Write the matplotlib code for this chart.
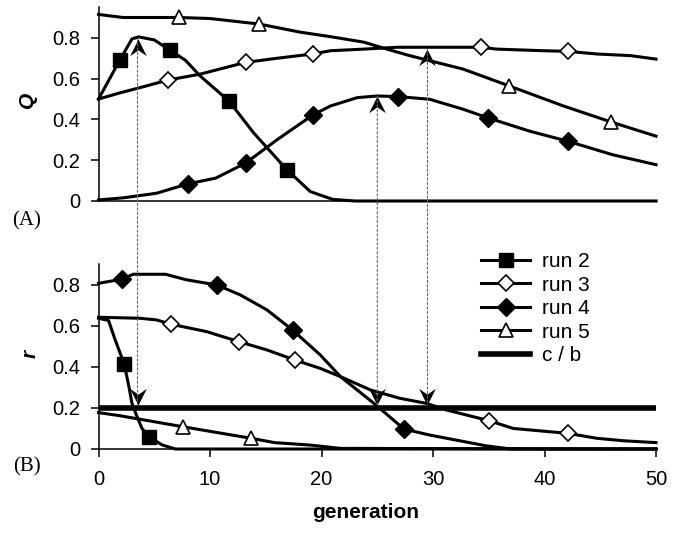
import matplotlib
matplotlib.use('Agg')
import matplotlib.pyplot as plt
from matplotlib.patches import ConnectionPatch
from matplotlib.path import Path

plt.rcParams['font.family'] = ['Liberation Sans', 'DejaVu Sans']

# ---- dados ----
# painel A: Q por geração
run2_gen_q = [0, 1.9, 3.0, 3.6, 5.0, 6.4, 7.8, 9.1, 11.7, 13.9, 16.9, 19.0, 21.0, 23.0, 50]
run2_q = [0.50, 0.69, 0.795, 0.805, 0.79, 0.74, 0.69, 0.614, 0.49, 0.335, 0.153, 0.046, 0.008, 0.0, 0.0]
run2_q_mk = [1, 5, 8, 10]

run3_gen_q = [0, 1.9, 4.0, 6.2, 9.1, 13.2, 16.0, 19.2, 20.8, 23.8, 26.8, 34.3, 35.7, 39.9, 42.1, 44.7, 47.7, 50]
run3_q = [0.50, 0.53, 0.56, 0.593, 0.622, 0.68, 0.70, 0.721, 0.737, 0.745, 0.754, 0.754, 0.745, 0.737, 0.734, 0.721, 0.713, 0.696]
run3_q_mk = [3, 5, 7, 11, 14]

run4_gen_q = [0, 2.3, 5.2, 8.0, 10.5, 13.2, 16.0, 19.2, 20.8, 23.2, 25.0, 26.9, 29.7, 32.7, 34.9, 38.7, 42.1, 46.1, 50]
run4_q = [0.005, 0.016, 0.038, 0.084, 0.112, 0.186, 0.30, 0.421, 0.466, 0.507, 0.515, 0.512, 0.499, 0.45, 0.408, 0.342, 0.293, 0.227, 0.178]
run4_q_mk = [3, 5, 7, 11, 14, 16]

run5_gen_q = [0, 2.2, 7.2, 10.0, 14.4, 18.1, 20.8, 23.8, 25.6, 27.9, 29.7, 32.7, 36.8, 41.7, 46.0, 50]
run5_q = [0.915, 0.90, 0.90, 0.895, 0.868, 0.828, 0.806, 0.779, 0.749, 0.713, 0.688, 0.647, 0.565, 0.466, 0.387, 0.318]
run5_q_mk = [2, 4, 12, 14]

# painel B: r por geração
run2_gen_r = [0, 0.9, 1.5, 2.3, 2.7, 3.0, 3.4, 3.9, 4.5, 5.7, 6.9, 50]
run2_r = [0.636, 0.625, 0.53, 0.414, 0.311, 0.222, 0.165, 0.10, 0.06, 0.02, 0.0, 0.0]
run2_r_mk = [3, 8]

run3_gen_r = [0, 3.7, 5.2, 6.5, 9.7, 12.6, 15.1, 17.6, 19.9, 21.7, 24.4, 27.0, 29.4, 31.2, 35.0, 37.2, 42.1, 44.7, 47.1, 50]
run3_r = [0.641, 0.636, 0.628, 0.607, 0.571, 0.522, 0.482, 0.433, 0.392, 0.352, 0.287, 0.247, 0.222, 0.19, 0.138, 0.10, 0.076, 0.052, 0.04, 0.031]
run3_r_mk = [3, 5, 7, 14, 16]

run4_gen_r = [0, 2.1, 3.1, 6.0, 7.9, 10.6, 12.7, 15.1, 17.4, 19.9, 21.7, 24.7, 27.4, 29.7, 34.8, 37.0, 50]
run4_r = [0.806, 0.826, 0.85, 0.85, 0.823, 0.798, 0.75, 0.677, 0.579, 0.457, 0.352, 0.222, 0.097, 0.068, 0.015, 0.0, 0.0]
run4_r_mk = [1, 5, 8, 12]

run5_gen_r = [0, 1.9, 7.6, 13.7, 15.8, 19.0, 21.7, 50]
run5_r = [0.177, 0.162, 0.108, 0.052, 0.031, 0.019, 0.003, 0.0]
run5_r_mk = [2, 3]

custo_beneficio = 0.2  # c / b

# setas pontilhadas: geração, ponta em Q (painel A), ponta em r (painel B)
seta_gen = [3.5, 25.0, 29.5]
seta_q = [0.795, 0.515, 0.745]
seta_r = [0.214, 0.214, 0.214]

# ---- figura ----
fig = plt.figure(figsize=(6.78, 5.33), dpi=100)
ax_a = fig.add_axes([0.1453, 0.6229, 0.8223, 0.3634])
ax_b = fig.add_axes([0.1453, 0.1576, 0.8223, 0.3471])

estilos = {
    'run 2': dict(marker='s', ms=10, mfc='black', mec='black'),
    'run 3': dict(marker='D', ms=8.5, mfc='white', mec='black', mew=1.2),
    'run 4': dict(marker='D', ms=9.5, mfc='black', mec='black'),
    'run 5': dict(marker='^', ms=10, mfc='white', mec='black', mew=1.2),
}

series_a = [
    ('run 2', run2_gen_q, run2_q, run2_q_mk),
    ('run 3', run3_gen_q, run3_q, run3_q_mk),
    ('run 4', run4_gen_q, run4_q, run4_q_mk),
    ('run 5', run5_gen_q, run5_q, run5_q_mk),
]
series_b = [
    ('run 2', run2_gen_r, run2_r, run2_r_mk),
    ('run 3', run3_gen_r, run3_r, run3_r_mk),
    ('run 4', run4_gen_r, run4_r, run4_r_mk),
    ('run 5', run5_gen_r, run5_r, run5_r_mk),
]

for nome, g, v, mk in series_a:
    ax_a.plot(g, v, color='black', lw=2.2, markevery=mk, clip_on=False, zorder=3, **estilos[nome])

for nome, g, v, mk in series_b:
    ax_b.plot(g, v, color='black', lw=2.2, markevery=mk, clip_on=False, zorder=3, label=nome, **estilos[nome])

ax_b.axhline(custo_beneficio, color='black', lw=4, zorder=2, label='c / b')

# eixos
for ax, topo in [(ax_a, 0.95), (ax_b, 0.9)]:
    ax.set_xlim(0, 50)
    ax.set_ylim(0, topo)
    ax.set_yticks([0, 0.2, 0.4, 0.6, 0.8])
    ax.set_yticklabels(['0', '0.2', '0.4', '0.6', '0.8'])
    ax.spines['top'].set_visible(False)
    ax.spines['right'].set_visible(False)
    ax.spines['left'].set_linewidth(1.1)
    ax.spines['bottom'].set_linewidth(1.1)
    ax.tick_params(axis='y', direction='out', length=6, width=1.1, pad=7, labelsize=14.5)
    ax.patch.set_visible(False)

ax_a.tick_params(axis='x', bottom=False, labelbottom=False)
ax_b.set_xticks([0, 10, 20, 30, 40, 50])
ax_b.tick_params(axis='x', direction='out', length=6, width=1.1, pad=9, labelsize=14.5)

# rótulos
fig.text(27 / 678, 1 - 100 / 533, 'Q', rotation=90, ha='center', va='center',
         fontsize=15, fontweight='bold', fontstyle='italic')
fig.text(30 / 678, 1 - 354 / 533, 'r', rotation=90, ha='center', va='center',
         fontsize=15, fontweight='bold', fontstyle='italic')
fig.text(366 / 678, 1 - 513 / 533, 'generation', ha='center', va='center',
         fontsize=15, fontweight='bold')
fig.text(27 / 678, 1 - 221 / 533, '(A)', ha='center', va='center', fontsize=15,
         family=['Liberation Serif', 'DejaVu Serif'])
fig.text(27 / 678, 1 - 467 / 533, '(B)', ha='center', va='center', fontsize=15,
         family=['Liberation Serif', 'DejaVu Serif'])

# setas pontilhadas ligando os dois painéis
ponta_cima = Path([(0, 0), (0.5, -1), (0, -0.65), (-0.5, -1), (0, 0)],
                  [Path.MOVETO, Path.LINETO, Path.LINETO, Path.LINETO, Path.CLOSEPOLY])
ponta_baixo = Path([(0, 0), (0.5, 1), (0, 0.65), (-0.5, 1), (0, 0)],
                   [Path.MOVETO, Path.LINETO, Path.LINETO, Path.LINETO, Path.CLOSEPOLY])

for g, q, r in zip(seta_gen, seta_q, seta_r):
    con = ConnectionPatch(xyA=(g, q), coordsA=ax_a.transData, xyB=(g, r), coordsB=ax_b.transData,
                          linestyle=(0, (2, 2)), color='0.4', lw=0.8, zorder=1)
    fig.add_artist(con)
    ax_a.plot([g], [q], marker=ponta_cima, ms=24, color='black', mew=0, zorder=5, clip_on=False)
    ax_b.plot([g], [r], marker=ponta_baixo, ms=24, color='black', mew=0, zorder=5, clip_on=False)

# legenda
handles, labels = ax_b.get_legend_handles_labels()
fig.legend(handles, labels, loc='upper left', bbox_to_anchor=(481 / 678, 1 - 252 / 533),
           frameon=False, fontsize=15, handlelength=2.36, handletextpad=0.58,
           labelspacing=0.22, borderpad=0, borderaxespad=0)

plt.savefig('out.png', dpi=100)
